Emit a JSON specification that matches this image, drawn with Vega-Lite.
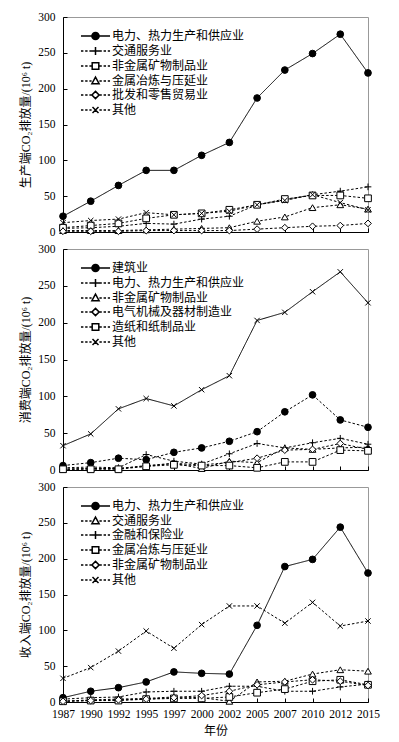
{
  "$schema": "https://vega.github.io/schema/vega-lite/v6.json",
  "padding": {"left": 19, "top": 10, "right": 5, "bottom": 2},
  "spacing": 4,
  "resolve": {
    "scale": {"shape": "independent"},
    "legend": {"shape": "independent"}
  },
  "datasets": {
    "p1": [
      {"year": "1987", "电力、热力生产和供应业": 22, "交通服务业": 5, "非金属矿物制品业": 6, "金属冶炼与压延业": 2, "批发和零售贸易业": 1, "其他": 13},
      {"year": "1990", "电力、热力生产和供应业": 43, "交通服务业": 6, "非金属矿物制品业": 9, "金属冶炼与压延业": 2, "批发和零售贸易业": 1, "其他": 16},
      {"year": "1992", "电力、热力生产和供应业": 65, "交通服务业": 8, "非金属矿物制品业": 12, "金属冶炼与压延业": 2, "批发和零售贸易业": 1, "其他": 18},
      {"year": "1995", "电力、热力生产和供应业": 86, "交通服务业": 12, "非金属矿物制品业": 19, "金属冶炼与压延业": 3, "批发和零售贸易业": 2, "其他": 27},
      {"year": "1997", "电力、热力生产和供应业": 86, "交通服务业": 11, "非金属矿物制品业": 24, "金属冶炼与压延业": 4, "批发和零售贸易业": 2, "其他": 24},
      {"year": "2000", "电力、热力生产和供应业": 107, "交通服务业": 18, "非金属矿物制品业": 26, "金属冶炼与压延业": 5, "批发和零售贸易业": 2, "其他": 26},
      {"year": "2002", "电力、热力生产和供应业": 125, "交通服务业": 22, "非金属矿物制品业": 31, "金属冶炼与压延业": 6, "批发和零售贸易业": 2, "其他": 29},
      {"year": "2005", "电力、热力生产和供应业": 187, "交通服务业": 38, "非金属矿物制品业": 38, "金属冶炼与压延业": 15, "批发和零售贸易业": 4, "其他": 38},
      {"year": "2007", "电力、热力生产和供应业": 226, "交通服务业": 45, "非金属矿物制品业": 46, "金属冶炼与压延业": 21, "批发和零售贸易业": 6, "其他": 44},
      {"year": "2010", "电力、热力生产和供应业": 249, "交通服务业": 52, "非金属矿物制品业": 51, "金属冶炼与压延业": 34, "批发和零售贸易业": 8, "其他": 52},
      {"year": "2012", "电力、热力生产和供应业": 276, "交通服务业": 57, "非金属矿物制品业": 51, "金属冶炼与压延业": 38, "批发和零售贸易业": 9, "其他": 41},
      {"year": "2015", "电力、热力生产和供应业": 222, "交通服务业": 63, "非金属矿物制品业": 47, "金属冶炼与压延业": 32, "批发和零售贸易业": 12, "其他": 31}
    ],
    "p2": [
      {"year": "1987", "建筑业": 6, "电力、热力生产和供应业": 3, "非金属矿物制品业": 1, "电气机械及器材制造业": 1, "造纸和纸制品业": 1, "其他": 33},
      {"year": "1990", "建筑业": 10, "电力、热力生产和供应业": 4, "非金属矿物制品业": 2, "电气机械及器材制造业": 2, "造纸和纸制品业": 1, "其他": 49},
      {"year": "1992", "建筑业": 16, "电力、热力生产和供应业": 3, "非金属矿物制品业": 2, "电气机械及器材制造业": 2, "造纸和纸制品业": 1, "其他": 83},
      {"year": "1995", "建筑业": 14, "电力、热力生产和供应业": 21, "非金属矿物制品业": 5, "电气机械及器材制造业": 6, "造纸和纸制品业": 5, "其他": 97},
      {"year": "1997", "建筑业": 24, "电力、热力生产和供应业": 12, "非金属矿物制品业": 9, "电气机械及器材制造业": 9, "造纸和纸制品业": 7, "其他": 87},
      {"year": "2000", "建筑业": 30, "电力、热力生产和供应业": 8, "非金属矿物制品业": 2, "电气机械及器材制造业": 7, "造纸和纸制品业": 6, "其他": 109},
      {"year": "2002", "建筑业": 39, "电力、热力生产和供应业": 22, "非金属矿物制品业": 12, "电气机械及器材制造业": 10, "造纸和纸制品业": 6, "其他": 128},
      {"year": "2005", "建筑业": 52, "电力、热力生产和供应业": 36, "非金属矿物制品业": 10, "电气机械及器材制造业": 16, "造纸和纸制品业": 3, "其他": 203},
      {"year": "2007", "建筑业": 79, "电力、热力生产和供应业": 30, "非金属矿物制品业": 30, "电气机械及器材制造业": 27, "造纸和纸制品业": 11, "其他": 214},
      {"year": "2010", "建筑业": 102, "电力、热力生产和供应业": 37, "非金属矿物制品业": 28, "电气机械及器材制造业": 28, "造纸和纸制品业": 11, "其他": 242},
      {"year": "2012", "建筑业": 68, "电力、热力生产和供应业": 43, "非金属矿物制品业": 30, "电气机械及器材制造业": 36, "造纸和纸制品业": 27, "其他": 269},
      {"year": "2015", "建筑业": 58, "电力、热力生产和供应业": 35, "非金属矿物制品业": 31, "电气机械及器材制造业": 28, "造纸和纸制品业": 26, "其他": 227}
    ],
    "p3": [
      {"year": "1987", "电力、热力生产和供应业": 6, "交通服务业": 1, "金融和保险业": 4, "金属冶炼与压延业": 1, "非金属矿物制品业": 1, "其他": 33},
      {"year": "1990", "电力、热力生产和供应业": 15, "交通服务业": 3, "金融和保险业": 6, "金属冶炼与压延业": 2, "非金属矿物制品业": 2, "其他": 48},
      {"year": "1992", "电力、热力生产和供应业": 20, "交通服务业": 4, "金融和保险业": 7, "金属冶炼与压延业": 2, "非金属矿物制品业": 3, "其他": 71},
      {"year": "1995", "电力、热力生产和供应业": 28, "交通服务业": 5, "金融和保险业": 14, "金属冶炼与压延业": 4, "非金属矿物制品业": 4, "其他": 99},
      {"year": "1997", "电力、热力生产和供应业": 42, "交通服务业": 7, "金融和保险业": 15, "金属冶炼与压延业": 5, "非金属矿物制品业": 6, "其他": 75},
      {"year": "2000", "电力、热力生产和供应业": 40, "交通服务业": 6, "金融和保险业": 15, "金属冶炼与压延业": 5, "非金属矿物制品业": 9, "其他": 108},
      {"year": "2002", "电力、热力生产和供应业": 39, "交通服务业": 1, "金融和保险业": 22, "金属冶炼与压延业": 7, "非金属矿物制品业": 15, "其他": 134},
      {"year": "2005", "电力、热力生产和供应业": 107, "交通服务业": 28, "金融和保险业": 22, "金属冶炼与压延业": 13, "非金属矿物制品业": 24, "其他": 134},
      {"year": "2007", "电力、热力生产和供应业": 189, "交通服务业": 29, "金融和保险业": 15, "金属冶炼与压延业": 18, "非金属矿物制品业": 28, "其他": 110},
      {"year": "2010", "电力、热力生产和供应业": 199, "交通服务业": 39, "金融和保险业": 15, "金属冶炼与压延业": 29, "非金属矿物制品业": 31, "其他": 139},
      {"year": "2012", "电力、热力生产和供应业": 244, "交通服务业": 45, "金融和保险业": 21, "金属冶炼与压延业": 31, "非金属矿物制品业": 29, "其他": 106},
      {"year": "2015", "电力、热力生产和供应业": 180, "交通服务业": 43, "金融和保险业": 25, "金属冶炼与压延业": 24, "非金属矿物制品业": 23, "其他": 113}
    ]
  },
  "vconcat": [
    {
      "width": 305, "height": 215,
      "data": {"name": "p1"},
      "transform": [{"fold": ["电力、热力生产和供应业", "交通服务业", "非金属矿物制品业", "金属冶炼与压延业", "批发和零售贸易业", "其他"], "as": ["series", "value"]}],
      "encoding": {
        "x": {"field": "year", "type": "ordinal", "scale": {"type": "point", "padding": 0}, "axis": {"labels": false, "title": null}},
        "y": {"field": "value", "type": "quantitative", "scale": {"domain": [0, 300], "nice": false}, "axis": {"title": "生产端CO₂排放量/(10⁶ t)", "values": [0, 50, 100, 150, 200, 250, 300]}}
      },
      "resolve": {"scale": {"shape": "independent"}, "legend": {"shape": "independent"}},
      "layer": [
        {"mark": {"type": "line", "color": "black", "strokeWidth": 1},
         "encoding": {"detail": {"field": "series"},
           "strokeDash": {"condition": {"test": "datum.series === '电力、热力生产和供应业'", "value": [1, 0]}, "value": [2.5, 2]}}},
        {"mark": {"type": "point", "stroke": "black", "strokeWidth": 1, "opacity": 1, "size": 45},
         "encoding": {
           "fill": {"condition": {"test": "datum.series === '电力、热力生产和供应业'", "value": "black"}, "value": "white"},
           "shape": {"field": "series", "type": "nominal", "legend": null,
             "scale": {"domain": ["电力、热力生产和供应业", "交通服务业", "非金属矿物制品业", "金属冶炼与压延业", "批发和零售贸易业", "其他"], "range": ["circle", "M-1,0L1,0M0,-1L0,1", "square", "triangle-up", "diamond", "M-0.8,-0.8L0.8,0.8M-0.8,0.8L0.8,-0.8"]}}
         }},
        {"mark": {"type": "point", "stroke": "black", "fill": "white", "strokeWidth": 1, "opacity": 0},
         "encoding": {
           "shape": {"field": "series", "type": "nominal",
             "scale": {"domain": ["电力、热力生产和供应业", "交通服务业", "非金属矿物制品业", "金属冶炼与压延业", "批发和零售贸易业", "其他"],
               "range": [
                 "M-0.17,0L4.67,0M2.85,0A0.6,0.6,0,1,1,1.65,0A0.6,0.6,0,1,1,2.85,0M2.7,0A0.45,0.45,0,1,1,1.8,0A0.45,0.45,0,1,1,2.7,0M2.55,0A0.3,0.3,0,1,1,1.95,0A0.3,0.3,0,1,1,2.55,0M2.4,0A0.15,0.15,0,1,1,2.1,0A0.15,0.15,0,1,1,2.4,0",
                 "M-0.17,0L0.23,0M0.53,0L0.93,0M1.23,0L1.6,0M2.9,0L3.3,0M3.6,0L4,0M4.3,0L4.67,0M1.6,0L2.9,0M2.25,-0.65L2.25,0.65",
                 "M-0.17,0L0.23,0M0.53,0L0.93,0M1.23,0L1.6,0M2.9,0L3.3,0M3.6,0L4,0M4.3,0L4.67,0M1.7,-0.55L2.8,-0.55L2.8,0.55L1.7,0.55Z",
                 "M-0.17,0L0.23,0M0.53,0L0.93,0M1.23,0L1.6,0M2.9,0L3.3,0M3.6,0L4,0M4.3,0L4.67,0M2.25,-0.65L2.85,0.45L1.65,0.45Z",
                 "M-0.17,0L0.23,0M0.53,0L0.93,0M1.23,0L1.6,0M2.9,0L3.3,0M3.6,0L4,0M4.3,0L4.67,0M2.25,-0.6L2.85,0L2.25,0.6L1.65,0Z",
                 "M-0.17,0L0.23,0M0.53,0L0.93,0M1.23,0L1.6,0M2.9,0L3.3,0M3.6,0L4,0M4.3,0L4.67,0M1.75,-0.5L2.75,0.5M1.75,0.5L2.75,-0.5"
               ]},
             "legend": {"title": null, "orient": "top-left", "offset": 12, "symbolOpacity": 1}}
         }}
      ]
    },
    {
      "width": 305, "height": 221,
      "data": {"name": "p2"},
      "transform": [{"fold": ["建筑业", "电力、热力生产和供应业", "非金属矿物制品业", "电气机械及器材制造业", "造纸和纸制品业", "其他"], "as": ["series", "value"]}],
      "encoding": {
        "x": {"field": "year", "type": "ordinal", "scale": {"type": "point", "padding": 0}, "axis": {"labels": false, "title": null}},
        "y": {"field": "value", "type": "quantitative", "scale": {"domain": [0, 300], "nice": false}, "axis": {"title": "消费端CO₂排放量/(10⁶ t)", "values": [0, 50, 100, 150, 200, 250, 300]}}
      },
      "resolve": {"scale": {"shape": "independent"}, "legend": {"shape": "independent"}},
      "layer": [
        {"mark": {"type": "line", "color": "black", "strokeWidth": 1},
         "encoding": {"detail": {"field": "series"},
           "strokeDash": {"condition": {"test": "datum.series === '其他'", "value": [1, 0]}, "value": [2.5, 2]}}},
        {"mark": {"type": "point", "stroke": "black", "strokeWidth": 1, "opacity": 1, "size": 45},
         "encoding": {
           "fill": {"condition": {"test": "datum.series === '建筑业'", "value": "black"}, "value": "white"},
           "shape": {"field": "series", "type": "nominal", "legend": null,
             "scale": {"domain": ["建筑业", "电力、热力生产和供应业", "非金属矿物制品业", "电气机械及器材制造业", "造纸和纸制品业", "其他"], "range": ["circle", "M-1,0L1,0M0,-1L0,1", "triangle-up", "diamond", "square", "M-0.8,-0.8L0.8,0.8M-0.8,0.8L0.8,-0.8"]}}
         }},
        {"mark": {"type": "point", "stroke": "black", "fill": "white", "strokeWidth": 1, "opacity": 0},
         "encoding": {
           "shape": {"field": "series", "type": "nominal",
             "scale": {"domain": ["建筑业", "电力、热力生产和供应业", "非金属矿物制品业", "电气机械及器材制造业", "造纸和纸制品业", "其他"],
               "range": [
                 "M-0.17,0L4.67,0M2.85,0A0.6,0.6,0,1,1,1.65,0A0.6,0.6,0,1,1,2.85,0M2.7,0A0.45,0.45,0,1,1,1.8,0A0.45,0.45,0,1,1,2.7,0M2.55,0A0.3,0.3,0,1,1,1.95,0A0.3,0.3,0,1,1,2.55,0M2.4,0A0.15,0.15,0,1,1,2.1,0A0.15,0.15,0,1,1,2.4,0",
                 "M-0.17,0L0.23,0M0.53,0L0.93,0M1.23,0L1.6,0M2.9,0L3.3,0M3.6,0L4,0M4.3,0L4.67,0M1.6,0L2.9,0M2.25,-0.65L2.25,0.65",
                 "M-0.17,0L0.23,0M0.53,0L0.93,0M1.23,0L1.6,0M2.9,0L3.3,0M3.6,0L4,0M4.3,0L4.67,0M2.25,-0.65L2.85,0.45L1.65,0.45Z",
                 "M-0.17,0L0.23,0M0.53,0L0.93,0M1.23,0L1.6,0M2.9,0L3.3,0M3.6,0L4,0M4.3,0L4.67,0M2.25,-0.6L2.85,0L2.25,0.6L1.65,0Z",
                 "M-0.17,0L0.23,0M0.53,0L0.93,0M1.23,0L1.6,0M2.9,0L3.3,0M3.6,0L4,0M4.3,0L4.67,0M1.7,-0.55L2.8,-0.55L2.8,0.55L1.7,0.55Z",
                 "M-0.17,0L0.23,0M0.53,0L0.93,0M1.23,0L1.6,0M2.9,0L3.3,0M3.6,0L4,0M4.3,0L4.67,0M1.75,-0.5L2.75,0.5M1.75,0.5L2.75,-0.5"
               ]},
             "legend": {"title": null, "orient": "top-left", "offset": 12, "symbolOpacity": 1}}
         }}
      ]
    },
    {
      "width": 305, "height": 215,
      "data": {"name": "p3"},
      "transform": [{"fold": ["电力、热力生产和供应业", "交通服务业", "金融和保险业", "金属冶炼与压延业", "非金属矿物制品业", "其他"], "as": ["series", "value"]}],
      "encoding": {
        "x": {"field": "year", "type": "ordinal", "scale": {"type": "point", "padding": 0}, "axis": {"labelAngle": 0, "title": "年份", "labelPadding": 10, "titlePadding": 6}},
        "y": {"field": "value", "type": "quantitative", "scale": {"domain": [0, 300], "nice": false}, "axis": {"title": "收入端CO₂排放量/(10⁶ t)", "values": [0, 50, 100, 150, 200, 250, 300]}}
      },
      "resolve": {"scale": {"shape": "independent"}, "legend": {"shape": "independent"}},
      "layer": [
        {"mark": {"type": "line", "color": "black", "strokeWidth": 1},
         "encoding": {"detail": {"field": "series"},
           "strokeDash": {"condition": {"test": "datum.series === '电力、热力生产和供应业'", "value": [1, 0]}, "value": [2.5, 2]}}},
        {"mark": {"type": "point", "stroke": "black", "strokeWidth": 1, "opacity": 1, "size": 45},
         "encoding": {
           "fill": {"condition": {"test": "datum.series === '电力、热力生产和供应业'", "value": "black"}, "value": "white"},
           "shape": {"field": "series", "type": "nominal", "legend": null,
             "scale": {"domain": ["电力、热力生产和供应业", "交通服务业", "金融和保险业", "金属冶炼与压延业", "非金属矿物制品业", "其他"], "range": ["circle", "triangle-up", "M-1,0L1,0M0,-1L0,1", "square", "diamond", "M-0.8,-0.8L0.8,0.8M-0.8,0.8L0.8,-0.8"]}}
         }},
        {"mark": {"type": "point", "stroke": "black", "fill": "white", "strokeWidth": 1, "opacity": 0},
         "encoding": {
           "shape": {"field": "series", "type": "nominal",
             "scale": {"domain": ["电力、热力生产和供应业", "交通服务业", "金融和保险业", "金属冶炼与压延业", "非金属矿物制品业", "其他"],
               "range": [
                 "M-0.17,0L4.67,0M2.85,0A0.6,0.6,0,1,1,1.65,0A0.6,0.6,0,1,1,2.85,0M2.7,0A0.45,0.45,0,1,1,1.8,0A0.45,0.45,0,1,1,2.7,0M2.55,0A0.3,0.3,0,1,1,1.95,0A0.3,0.3,0,1,1,2.55,0M2.4,0A0.15,0.15,0,1,1,2.1,0A0.15,0.15,0,1,1,2.4,0",
                 "M-0.17,0L0.23,0M0.53,0L0.93,0M1.23,0L1.6,0M2.9,0L3.3,0M3.6,0L4,0M4.3,0L4.67,0M2.25,-0.65L2.85,0.45L1.65,0.45Z",
                 "M-0.17,0L0.23,0M0.53,0L0.93,0M1.23,0L1.6,0M2.9,0L3.3,0M3.6,0L4,0M4.3,0L4.67,0M1.6,0L2.9,0M2.25,-0.65L2.25,0.65",
                 "M-0.17,0L0.23,0M0.53,0L0.93,0M1.23,0L1.6,0M2.9,0L3.3,0M3.6,0L4,0M4.3,0L4.67,0M1.7,-0.55L2.8,-0.55L2.8,0.55L1.7,0.55Z",
                 "M-0.17,0L0.23,0M0.53,0L0.93,0M1.23,0L1.6,0M2.9,0L3.3,0M3.6,0L4,0M4.3,0L4.67,0M2.25,-0.6L2.85,0L2.25,0.6L1.65,0Z",
                 "M-0.17,0L0.23,0M0.53,0L0.93,0M1.23,0L1.6,0M2.9,0L3.3,0M3.6,0L4,0M4.3,0L4.67,0M1.75,-0.5L2.75,0.5M1.75,0.5L2.75,-0.5"
               ]},
             "legend": {"title": null, "orient": "top-left", "offset": 12, "symbolOpacity": 1}}
         }}
      ]
    }
  ],
  "config": {
    "font": "Liberation Serif, Noto Sans CJK SC",
    "view": {"stroke": "#999999", "strokeWidth": 1},
    "axis": {
      "grid": false,
      "domainColor": "black",
      "tickColor": "black",
      "labelColor": "black",
      "titleColor": "black",
      "labelFont": "Liberation Serif, Noto Sans CJK SC",
      "titleFont": "Liberation Serif, Noto Sans CJK SC",
      "labelFontSize": 11.5,
      "titleFontSize": 12,
      "titleFontWeight": "normal",
      "tickSize": -4,
      "labelPadding": 12
    },
    "axisY": {"titlePadding": 5},
    "legend": {
      "labelFont": "Liberation Serif, Noto Sans CJK SC",
      "labelFontSize": 12,
      "labelColor": "black",
      "symbolSize": 144,
      "labelOffset": 23,
      "rowPadding": 1,
      "padding": 0
    }
  }
}
